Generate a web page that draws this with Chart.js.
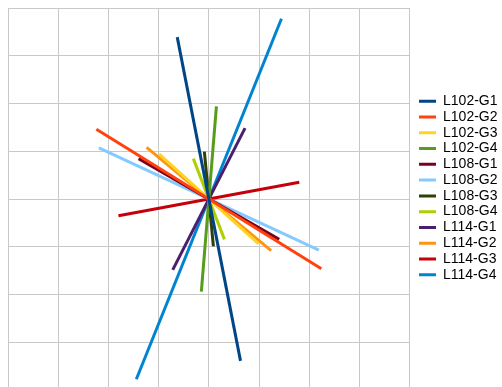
<!DOCTYPE html>
<html>
<head>
<meta charset="utf-8">
<script src="https://cdn.jsdelivr.net/npm/chart.js@4.4.1/dist/chart.umd.min.js"></script>
<style>
  html, body { margin: 0; padding: 0; background: #fff; overflow: hidden; }
  #wrap { position: relative; width: 502px; height: 390px; }
</style>
</head>
<body>
<div id="wrap"><canvas id="lineChart"></canvas></div>
<script>
// series names and colours
var seriesNames = ["L102-G1", "L102-G2", "L102-G3", "L102-G4",
                   "L108-G1", "L108-G2", "L108-G3", "L108-G4",
                   "L114-G1", "L114-G2", "L114-G3", "L114-G4"];
var seriesColors = ["#004586", "#ff420e", "#ffd320", "#579d1c",
                    "#7e0021", "#83caff", "#314004", "#aecf00",
                    "#4b1f6f", "#ff950e", "#c5000b", "#0084d1"];

// each series is one segment: start point -> end point
var startX = [-0.63, -2.24, -0.99,  0.15, -1.40, -2.19, -0.09, -0.31,  0.72, -1.24, -1.80,  1.445];
var startY = [ 3.39,  1.46,  0.94,  1.94,  0.845, 1.07,  0.99,  0.845, 1.485, 1.08, -0.35,  3.775];
var endX   = [ 0.63,  2.24,  0.99, -0.15,  1.40,  2.19,  0.09,  0.31, -0.72,  1.24,  1.80, -1.445];
var endY   = [-3.39, -1.46, -0.94, -1.94, -0.845, -1.07, -0.99, -0.845, -1.485, -1.08, 0.35, -3.775];

// axis range, no labels shown
var axisMin = -4, axisMax = 4, axisStep = 1;

var datasets = [];
seriesNames.forEach(function (name, i) {
    datasets.push({
        label: name,
        data: [{ x: startX[i], y: startY[i] }, { x: endX[i], y: endY[i] }],
        borderColor: seriesColors[i],
        backgroundColor: seriesColors[i],
        borderWidth: 3,
        showLine: true,
        pointRadius: 0,
        pointHoverRadius: 0
    });
});

// move the legend a bit off the plot and up
var legendOffset = {
    id: "legendOffset",
    afterLayout: function (chart) {
        var lg = chart.legend;
        lg.left += 7.5; lg.right += 7.5;
        lg.top -= 11; lg.bottom -= 11;
    }
};

var gridColor = "#c8c8c8";

new Chart(document.getElementById("lineChart").getContext("2d"), {
    type: "scatter",
    data: { datasets: datasets },
    plugins: [legendOffset],
    options: {
        responsive: true,
        maintainAspectRatio: false,
        animation: false,
        layout: { padding: { left: 8, top: 8, right: 2, bottom: 0 } },
        scales: {
            x: {
                min: axisMin, max: axisMax,
                ticks: { display: false, stepSize: axisStep },
                grid: { color: gridColor, drawTicks: false },
                border: { color: gridColor }
            },
            y: {
                min: axisMin, max: axisMax,
                ticks: { display: false, stepSize: axisStep },
                grid: { color: gridColor, drawTicks: false },
                border: { color: gridColor }
            }
        },
        plugins: {
            tooltip: { enabled: false },
            legend: {
                position: "right",
                labels: {
                    boxWidth: 17,
                    boxHeight: 3,
                    padding: 1.76,
                    color: "#000",
                    font: { family: "'Liberation Sans', Arial, sans-serif", size: 14 },
                    // flat swatches, no outline
                    generateLabels: function (chart) {
                        var items = Chart.defaults.plugins.legend.labels.generateLabels(chart);
                        items.forEach(function (it) { it.lineWidth = 0; });
                        return items;
                    }
                }
            }
        }
    }
});
</script>
</body>
</html>
